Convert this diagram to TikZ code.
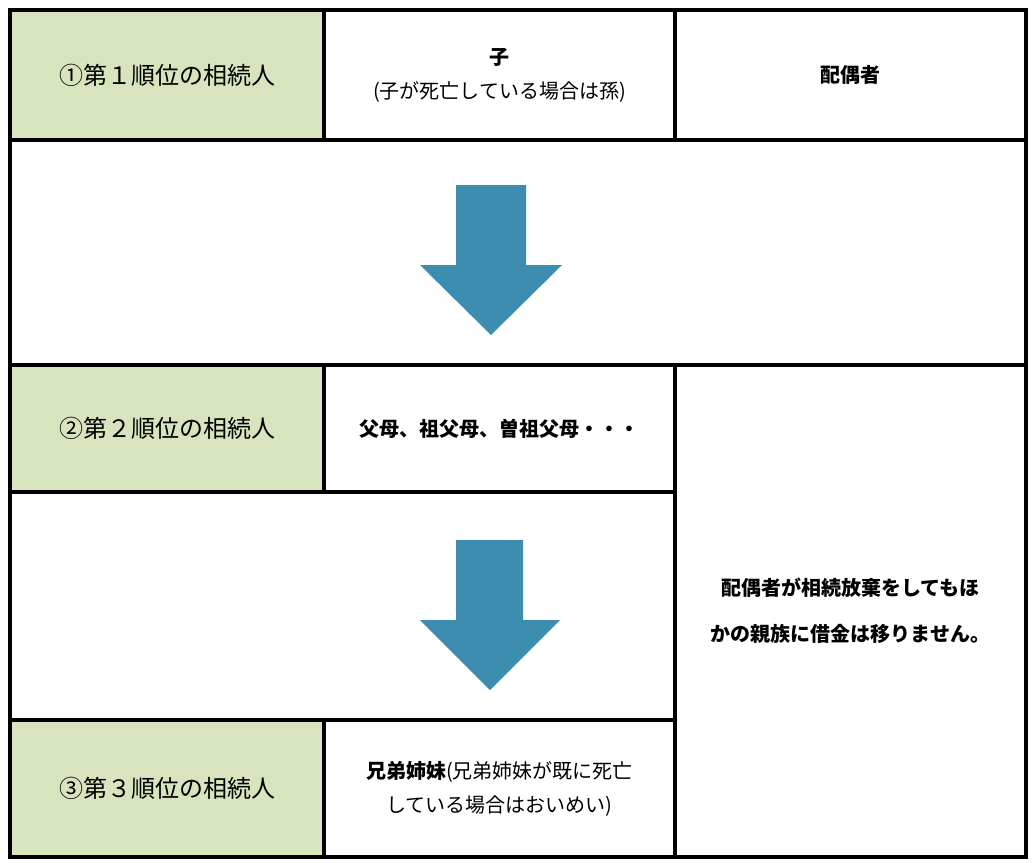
\documentclass[tikz,border=0pt]{standalone}
\usepackage{fontspec}
\setmainfont{Noto Sans CJK JP}
\usetikzlibrary{calc}
\definecolor{rankgreen}{HTML}{D7E4BD}
\definecolor{arrowblue}{HTML}{3C8DAF}
\tikzset{
  cell/.style={draw=black,line width=4pt,anchor=north west,inner sep=0pt,
    align=center,font=\fontsize{20}{34}\selectfont},
  rank/.style={cell,fill=rankgreen,font=\fontsize{24}{30}\selectfont},
  down/.style={fill=arrowblue,draw=none}
}
\begin{document}
\begin{tikzpicture}[x=1pt,y=-1pt]
\useasboundingbox (0,0) rectangle (1032,862);
% row 1
\node[rank,minimum width=314pt,minimum height=130pt] (r1) at (8,8) {①第１順位の相続人};
\node[cell,minimum width=351pt,minimum height=130pt] (c1) at (322,8) {\textbf{子}\\(子が死亡している場合は孫)};
\node[cell,minimum width=351pt,minimum height=130pt] (s1) at (673,8) {\textbf{配偶者}};
% gap row 1
\node[cell,minimum width=1016pt,minimum height=225pt] (g1) at (8,138) {};
% row 2
\node[rank,minimum width=314pt,minimum height=127pt] (r2) at (8,363) {②第２順位の相続人};
\node[cell,minimum width=351pt,minimum height=127pt] (c2) at (322,363) {\textbf{父母、祖父母、曽祖父母・・・}};
\node[cell,minimum width=351pt,minimum height=492pt,font=\fontsize{20}{46}\selectfont] (s2) at (673,363) {\textbf{配偶者が相続放棄をしてもほ}\\\textbf{かの親族に借金は移りません。}};
% gap row 2
\node[cell,minimum width=665pt,minimum height=228pt] (g2) at (8,490) {};
% row 3
\node[rank,minimum width=314pt,minimum height=137pt] (r3) at (8,718) {③第３順位の相続人};
\node[cell,minimum width=351pt,minimum height=137pt] (c3) at (322,718) {\textbf{兄弟姉妹}(兄弟姉妹が既に死亡\\している場合はおいめい)};
% arrows
\fill[down] (456,185) -- (526,185) -- (526,265) -- (562,265) -- (491,335) -- (420,265) -- (456,265) -- cycle;
\fill[down] (456,540) -- (523,540) -- (523,620) -- (560,620) -- (490,690) -- (420,620) -- (456,620) -- cycle;
\end{tikzpicture}
\end{document}
